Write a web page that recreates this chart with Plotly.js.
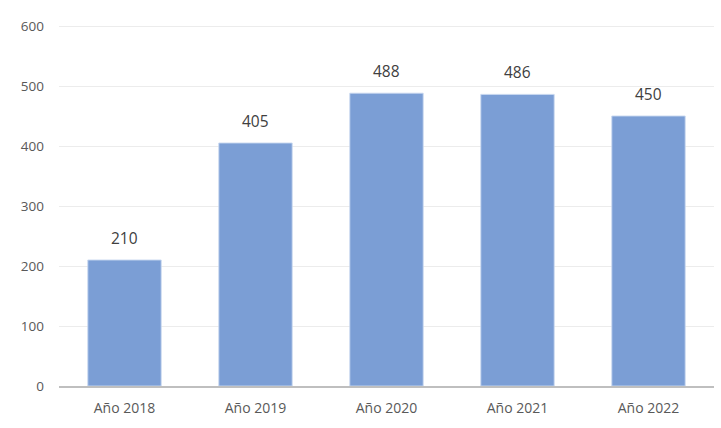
<!DOCTYPE html>
<html><head><meta charset="utf-8">
<script src="https://cdn.plot.ly/plotly-3.0.1.min.js"></script>
<style>html,body{margin:0;padding:0;background:#fff}#c{width:721px;height:428px}</style>
</head><body><div id="c"></div>
<script>
var categories = ["Año 2018", "Año 2019", "Año 2020", "Año 2021", "Año 2022"];
var values = [210, 405, 488, 486, 450];
var yTicks = [0, 100, 200, 300, 400, 500, 600];

var fam = "Open Sans, Liberation Sans, sans-serif";
var trace = {
  type: "bar",
  x: categories,
  y: values,
  marker: {color: "rgb(123,158,213)", line: {color: "rgba(200,215,240,0.9)", width: 1}},
  hoverinfo: "none"
};
var annotations = categories.map(function (c, i) {
  return {x: c, y: values[i], xref: "x", yref: "y", text: String(values[i]),
    showarrow: false, yanchor: "bottom", yshift: 9,
    font: {family: fam, size: 15.5, color: "#404040"}};
});
var layout = {
  width: 721, height: 428,
  margin: {l: 59, r: 7, t: 23, b: 42},
  paper_bgcolor: "#fff", plot_bgcolor: "#fff",
  showlegend: false,
  bargap: 0.44,
  annotations: annotations,
  font: {family: fam, color: "#595959"},
  xaxis: {
    type: "category",
    tickfont: {size: 14, color: "#595959"},
    showline: true, linecolor: "#bfbfbf", linewidth: 2,
    ticks: "", showgrid: false, zeroline: false,
    ticklabelstandoff: 8
  },
  yaxis: {
    range: [0, 605],
    tickvals: yTicks,
    ticktext: yTicks.map(String),
    tickfont: {size: 13.5, color: "#595959"},
    showgrid: true, gridcolor: "#ececec", gridwidth: 1,
    zeroline: false, showline: false, ticks: "", ticklen: 0,
    ticklabelstandoff: 14
  }
};
Plotly.newPlot("c", [trace], layout, {staticPlot: true, displayModeBar: false});
</script></body></html>
